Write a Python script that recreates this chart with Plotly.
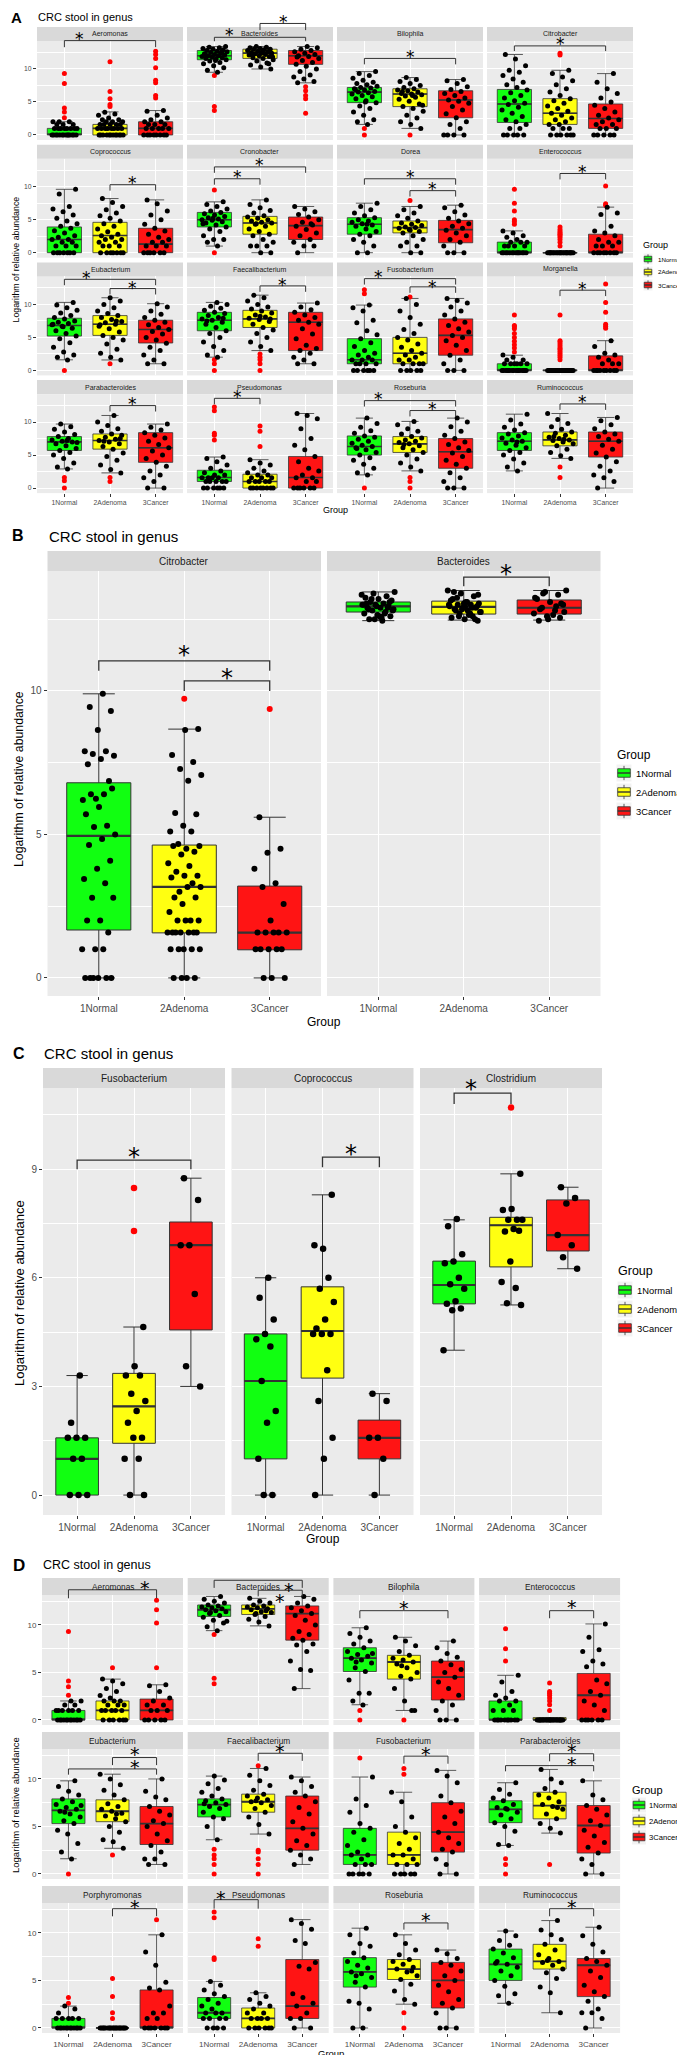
import plotly.graph_objects as go

# ---------------------------------------------------------------- categories / texts
GROUPS = ["1Normal", "2Adenoma", "3Cancer"]
LEGEND_TITLE = "Group"
TITLE = "CRC stool in genus"
Y_TITLE = "Logarithm of relative abundance"
X_TITLE = "Group"

# box stats per group: [q1, median, q3, lower whisker, upper whisker]
# ================================================================ PANEL A
A_aeromonas_box = [[0, 0.1, 1.0, 0, 2.0], [0, 1.0, 1.6, 0, 3.5], [0, 1.0, 2.0, 0, 3.7]]
A_aeromonas_pts = [[0, 0, 0, 0, 0, 0, 0, 0, 0, 0, 0, 0, 0, 0, 1, 1, 1, 1, 1, 1, 1, 1, 1.58, 1.58, 1.58, 2, 2, 2],
                   [0, 0, 0, 0, 0, 0, 0, 0, 0, 0, 0, 0, 1, 1, 1, 1, 1, 1, 1, 1, 1.58, 1.58, 1.58, 1.58, 1.58, 2, 2, 2, 2.32, 2.32, 2.58, 3, 3.17, 3.46],
                   [0, 0, 0, 0, 0, 0, 0, 0, 1, 1, 1, 1, 1, 1.58, 1.58, 1.58, 2, 2, 2.32, 2.58, 3, 3.58, 3.7]]
A_aeromonas_out = [[9.3, 7.8, 4.1, 3.5, 2.6], [11.1, 6.6, 5.5, 4.6, 4.3], [12.7, 12.2, 11.6, 10.2, 8.3, 7.9, 6.0, 5.6]]

A_bacteroides_box = [[11.4, 12.0, 12.8, 9.5, 13.4], [11.6, 12.4, 13.0, 10.0, 13.4], [10.7, 12.0, 12.8, 7.9, 13.4]]
A_bacteroides_pts = [[9.5, 9.8, 10.2, 10.5, 10.8, 11.0, 11.2, 11.4, 11.5, 11.6, 11.7, 11.8, 11.9, 12.0, 12.0, 12.1, 12.2, 12.3, 12.4, 12.5, 12.6, 12.7, 12.8, 12.9, 13.0, 13.1, 13.2, 13.3, 13.4, 11.3, 12.2, 12.6],
                     [10.0, 10.3, 10.6, 10.9, 11.2, 11.4, 11.6, 11.7, 11.9, 12.0, 12.1, 12.2, 12.3, 12.4, 12.4, 12.5, 12.6, 12.7, 12.8, 12.9, 13.0, 13.0, 13.1, 13.2, 13.3, 13.4, 11.8, 12.6, 12.2, 10.8],
                     [7.9, 8.1, 8.5, 8.8, 9.1, 9.6, 10.0, 10.4, 10.7, 11.0, 11.3, 11.6, 11.9, 12.0, 12.2, 12.4, 12.6, 12.8, 13.0, 13.2, 13.4, 11.8]]
A_bacteroides_out = [[9.0, 4.3, 3.7], [], [7.3, 6.7, 6.0, 5.5, 3.3]]

A_bilophila_box = [[4.9, 6.5, 7.2, 1.6, 9.6], [4.3, 6.2, 7.0, 1.0, 8.7], [2.6, 5.3, 6.7, 0, 8.4]]
A_bilophila_pts = [[1.58, 2.0, 2.32, 3.0, 3.5, 4.0, 4.4, 4.9, 5.2, 5.5, 5.8, 6.0, 6.2, 6.4, 6.5, 6.6, 6.8, 7.0, 7.1, 7.2, 7.4, 7.6, 7.8, 8.0, 8.3, 8.6, 9.0, 9.3, 9.6, 5.0, 6.9],
                   [1.0, 1.58, 2.0, 2.58, 3.0, 3.6, 4.0, 4.3, 4.7, 5.1, 5.4, 5.7, 5.9, 6.1, 6.2, 6.3, 6.5, 6.7, 6.8, 7.0, 7.2, 7.5, 7.8, 8.1, 8.4, 8.7, 4.5, 6.0, 6.6],
                   [0, 0, 0, 0, 1.0, 1.58, 2.0, 2.6, 3.2, 3.8, 4.3, 4.8, 5.1, 5.3, 5.6, 6.0, 6.3, 6.6, 6.9, 7.3, 7.8, 8.2, 8.4]]
A_bilophila_out = [[1.0, 0], [0], []]

A_citrobacter_box = [[1.9, 4.7, 6.9, 0, 12.2], [1.6, 3.3, 5.5, 0, 9.8], [1.0, 2.5, 4.7, 0, 9.3]]
A_citrobacter_pts = [[0, 0, 0, 0, 0, 1.0, 1.0, 1.58, 2.0, 2.32, 2.8, 3.3, 3.8, 4.2, 4.6, 4.8, 5.2, 5.6, 6.0, 6.4, 6.8, 7.2, 7.6, 8.0, 8.5, 9.0, 9.5, 9.8, 10.5, 11.5, 12.2],
                     [0, 0, 0, 0, 0, 0, 1.0, 1.0, 1.0, 1.58, 1.58, 2.0, 2.32, 2.58, 3.0, 3.3, 3.6, 4.0, 4.4, 4.8, 5.2, 5.5, 6.0, 6.5, 7.0, 7.6, 8.2, 8.8, 9.3, 9.8],
                     [0, 0, 0, 0, 0, 1.0, 1.0, 1.0, 1.58, 1.58, 2.0, 2.32, 2.58, 3.0, 3.5, 4.0, 4.5, 5.0, 5.6, 6.3, 7.0, 8.0, 9.3]]
A_citrobacter_out = [[], [12.4, 12.1], []]

A_coprococcus_box = [[0, 2.0, 3.9, 0, 9.6], [0, 2.6, 4.6, 0, 8.2], [0, 1.3, 3.7, 0, 8.0]]
A_coprococcus_pts = [[0, 0, 0, 0, 0, 0, 0, 1.0, 1.0, 1.0, 1.58, 1.58, 2.0, 2.0, 2.32, 2.58, 3.0, 3.32, 3.7, 4.0, 4.4, 4.8, 5.2, 5.7, 6.2, 6.6, 7.0, 8.9, 9.6],
                      [0, 0, 0, 0, 0, 0, 0, 1.0, 1.0, 1.0, 1.58, 1.58, 2.0, 2.0, 2.32, 2.58, 2.81, 3.17, 3.6, 4.0, 4.4, 4.8, 5.2, 5.6, 6.0, 6.5, 7.0, 7.6, 8.2],
                      [0, 0, 0, 0, 0, 0, 1.0, 1.0, 1.0, 1.58, 1.58, 2.0, 2.32, 2.81, 3.3, 3.7, 4.3, 5.0, 5.7, 6.3, 7.4, 8.0]]
A_coprococcus_out = [[], [], []]

A_cronobacter_box = [[3.9, 5.0, 6.1, 1.0, 7.7], [2.8, 4.5, 5.5, 0, 8.0], [2.0, 4.1, 5.4, 0, 7.0]]
A_cronobacter_pts = [[1.0, 1.58, 2.0, 2.0, 2.58, 3.2, 3.6, 3.9, 4.2, 4.5, 4.7, 4.9, 5.0, 5.1, 5.3, 5.5, 5.7, 5.9, 6.1, 6.3, 6.6, 7.0, 7.3, 7.7, 5.2, 4.4],
                      [0, 0, 1.0, 1.0, 1.0, 1.58, 2.0, 2.58, 2.8, 3.2, 3.6, 4.0, 4.3, 4.5, 4.6, 4.8, 5.0, 5.2, 5.4, 5.6, 6.0, 6.4, 6.8, 7.3, 8.0, 4.4],
                      [0, 1.0, 1.0, 1.58, 2.0, 2.58, 3.0, 3.5, 4.0, 4.2, 4.6, 5.0, 5.4, 5.8, 6.2, 6.6, 7.0, 4.4]]
A_cronobacter_out = [[9.5, 0], [], []]

A_dorea_box = [[2.8, 4.3, 5.3, 0, 7.5], [3.0, 3.8, 4.8, 0, 7.0], [1.5, 3.5, 4.9, 0, 7.2]]
A_dorea_pts = [[0, 0, 1.0, 1.58, 2.0, 2.58, 2.8, 3.2, 3.6, 4.0, 4.2, 4.4, 4.6, 4.8, 5.0, 5.3, 5.6, 6.0, 6.5, 7.0, 7.5, 4.3],
               [0, 0, 1.0, 1.0, 1.58, 2.0, 2.58, 3.0, 3.2, 3.5, 3.7, 3.8, 3.9, 4.1, 4.3, 4.5, 4.8, 5.2, 5.6, 6.0, 6.5, 7.0, 3.4],
               [0, 0, 0, 1.0, 1.58, 2.0, 2.58, 3.0, 3.4, 3.7, 4.0, 4.4, 4.8, 5.2, 5.7, 6.2, 6.8, 7.2]]
A_dorea_out = [[], [7.9], []]

A_enterococcus_box = [[0, 0, 1.6, 0, 3.3], [0, 0, 0, 0, 0], [0, 0, 2.8, 0, 6.9]]
A_enterococcus_pts = [[0, 0, 0, 0, 0, 0, 0, 0, 0, 0, 0, 0, 0, 0, 1.0, 1.0, 1.0, 1.0, 1.58, 1.58, 1.58, 2.0, 2.32, 2.58, 3.0, 3.3],
                      [0, 0, 0, 0, 0, 0, 0, 0, 0, 0, 0, 0, 0, 0, 0, 0, 0, 0, 0, 0, 0, 0, 0, 0, 0],
                      [0, 0, 0, 0, 0, 0, 0, 0, 1.0, 1.0, 1.0, 1.58, 1.58, 2.0, 2.58, 3.0, 3.3, 4.0, 5.8, 6.0, 6.9]]
A_enterococcus_out = [[9.6, 7.5, 6.3, 5.0, 4.7, 4.3], [3.9, 3.5, 3.2, 3.0, 2.8, 2.6, 2.32, 2.0, 1.58, 1.0], [10.1, 7.4, 7.2]]

A_eubacterium_box = [[5.2, 6.8, 7.9, 1.6, 10.3], [5.3, 7.0, 8.3, 1.58, 11.0], [4.15, 6.2, 7.6, 1.0, 10.1]]
A_eubacterium_pts = [[1.58, 2.0, 2.32, 2.8, 3.5, 4.2, 4.8, 5.2, 5.6, 6.0, 6.4, 6.7, 6.9, 7.1, 7.3, 7.5, 7.8, 8.0, 8.3, 8.7, 9.1, 9.5, 9.9, 10.3, 6.6, 7.0],
                      [1.58, 2.0, 2.58, 3.2, 4.0, 4.6, 5.0, 5.3, 5.8, 6.3, 6.7, 7.0, 7.2, 7.4, 7.7, 8.0, 8.3, 8.6, 9.0, 9.5, 10.0, 10.5, 11.0, 6.9, 7.5],
                      [1.0, 1.0, 1.58, 2.32, 3.0, 3.5, 4.1, 4.6, 5.0, 5.5, 5.9, 6.2, 6.5, 6.9, 7.3, 7.6, 8.0, 8.5, 9.0, 9.6, 10.1]]
A_eubacterium_out = [[0], [1.0], []]

A_faecali_box = [[6.0, 7.6, 8.8, 2.0, 10.3], [6.5, 7.8, 9.1, 3.0, 11.4], [3.0, 7.3, 8.8, 1.0, 10.2]]
A_faecali_pts = [[2.0, 2.32, 3.0, 3.6, 4.3, 5.0, 5.6, 6.0, 6.5, 7.0, 7.3, 7.6, 7.8, 8.0, 8.3, 8.6, 8.8, 9.1, 9.4, 9.7, 10.0, 10.3, 7.5, 7.9],
                  [3.0, 3.6, 4.3, 5.0, 5.6, 6.1, 6.5, 7.0, 7.4, 7.7, 7.9, 8.1, 8.4, 8.7, 9.0, 9.3, 9.6, 10.0, 10.5, 11.0, 11.4, 7.8, 8.2],
                  [1.0, 1.0, 1.58, 2.0, 2.58, 3.0, 3.3, 3.8, 4.8, 5.5, 6.3, 7.0, 7.3, 7.6, 8.0, 8.4, 8.8, 9.2, 9.6, 10.2]]
A_faecali_out = [[1.6, 1.0, 0], [2.5, 2.0, 1.6, 1.0, 0], []]

A_fuso_box = [[1.0, 1.6, 4.8, 0, 9.9], [1.0, 2.6, 5.0, 0, 10.9], [2.3, 5.3, 7.8, 0, 10.9]]
A_fuso_pts = [[0, 0, 0, 0, 0, 0, 1.0, 1.0, 1.0, 1.0, 1.58, 1.58, 1.58, 2.0, 2.32, 2.58, 3.0, 3.6, 4.2, 4.8, 5.4, 6.0, 7.2, 7.6, 9.0, 9.5, 9.9],
               [0, 0, 0, 0, 0, 1.0, 1.0, 1.0, 1.0, 1.58, 1.58, 2.0, 2.32, 2.58, 3.0, 3.5, 4.0, 4.6, 5.0, 5.6, 6.2, 7.0, 8.0, 9.0, 10.0, 10.9],
               [0, 0, 0, 1.0, 1.58, 2.3, 3.0, 3.8, 4.5, 5.0, 5.3, 5.8, 6.3, 6.8, 7.3, 7.8, 8.4, 9.0, 9.6, 10.2, 10.6, 10.9]]
A_fuso_out = [[12.2, 11.6], [11.1], []]

A_morganella_box = [[0, 0, 1.0, 0, 2.3], [0, 0, 0, 0, 0], [0, 0, 2.2, 0, 4.5]]
A_morganella_pts = [[0, 0, 0, 0, 0, 0, 0, 0, 0, 0, 0, 0, 0, 0, 0, 0, 1.0, 1.0, 1.0, 1.0, 1.0, 1.0, 1.58, 1.58, 2.0, 2.32],
                     [0, 0, 0, 0, 0, 0, 0, 0, 0, 0, 0, 0, 0, 0, 0, 0, 0, 0, 0, 0, 0, 0, 0, 0, 0, 0],
                     [0, 0, 0, 0, 0, 0, 0, 0, 0, 1.0, 1.0, 1.0, 1.58, 2.0, 2.32, 2.58, 3.6, 4.5]]
A_morganella_out = [[8.4, 6.8, 6.6, 6.3, 5.6, 5.0, 4.4, 3.9, 3.4, 2.8],
                    [8.4, 4.5, 4.3, 4.0, 3.7, 3.4, 3.2, 2.9, 2.6, 2.3, 2.0, 1.6],
                    [13.1, 10.3, 8.8, 7.0, 6.7, 6.4]]

A_parabac_box = [[5.7, 7.0, 7.8, 2.9, 9.7], [5.9, 7.2, 8.2, 2.3, 11.0], [3.9, 6.1, 8.4, 0, 9.7]]
A_parabac_pts = [[2.9, 3.2, 3.8, 4.5, 5.0, 5.4, 5.7, 6.0, 6.4, 6.7, 7.0, 7.1, 7.3, 7.5, 7.8, 8.1, 8.5, 8.9, 9.3, 9.7, 6.9, 7.2],
                  [2.3, 2.8, 3.5, 4.2, 4.8, 5.3, 5.9, 6.3, 6.7, 7.0, 7.2, 7.4, 7.7, 8.0, 8.2, 8.6, 9.0, 9.5, 10.0, 11.0, 7.1, 7.5],
                  [0, 0, 1.0, 1.58, 2.0, 2.58, 3.3, 3.9, 4.5, 5.0, 5.6, 6.1, 6.6, 7.1, 7.6, 8.0, 8.4, 8.8, 9.2, 9.7]]
A_parabac_out = [[1.6, 1.1, 0], [1.6, 1.0], []]

A_pseudo_box = [[1.0, 1.6, 2.7, 0, 4.7], [0, 1.0, 2.1, 0, 4.3], [0, 1.6, 4.8, 0, 11.3]]
A_pseudo_pts = [[0, 0, 0, 0, 0, 0, 1.0, 1.0, 1.0, 1.0, 1.0, 1.58, 1.58, 1.58, 1.58, 2.0, 2.0, 2.32, 2.58, 3.0, 3.5, 4.0, 4.5, 4.7],
                 [0, 0, 0, 0, 0, 0, 0, 0, 1.0, 1.0, 1.0, 1.0, 1.0, 1.58, 1.58, 1.58, 2.0, 2.0, 2.32, 2.58, 3.0, 3.5, 3.8, 4.3],
                 [0, 0, 0, 0, 0, 0, 1.0, 1.0, 1.58, 1.58, 2.0, 2.58, 3.0, 4.0, 4.8, 5.8, 6.5, 7.5, 9.0, 10.5, 11.0, 11.3]]
A_pseudo_out = [[12.3, 11.7, 8.3, 8.0, 7.3], [9.4, 8.6, 6.3], []]

A_roseburia_box = [[5.0, 6.3, 7.9, 2.0, 10.6], [5.4, 6.7, 7.8, 2.6, 10.1], [3.0, 5.5, 7.5, 0, 10.6]]
A_roseburia_pts = [[2.0, 2.32, 3.0, 3.6, 4.2, 4.6, 5.0, 5.4, 5.8, 6.1, 6.3, 6.5, 6.8, 7.1, 7.4, 7.7, 7.9, 8.3, 8.7, 9.2, 9.8, 10.6, 6.0],
                    [2.6, 3.2, 3.8, 4.4, 5.0, 5.4, 5.8, 6.1, 6.4, 6.7, 6.9, 7.1, 7.3, 7.6, 7.8, 8.2, 8.6, 9.0, 9.6, 10.1, 6.6],
                    [0, 0, 0, 1.0, 1.58, 2.32, 3.0, 3.6, 4.2, 4.8, 5.3, 5.7, 6.1, 6.6, 7.0, 7.5, 8.0, 8.6, 9.3, 10.0, 10.6]]
A_roseburia_out = [[0], [1.6, 1.0, 0], []]

A_rumino_box = [[5.7, 7.1, 8.4, 2.6, 11.2], [6.4, 7.3, 8.5, 4.5, 11.3], [4.7, 7.1, 8.5, 0, 10.7]]
A_rumino_pts = [[2.6, 3.2, 3.8, 4.4, 5.0, 5.4, 5.7, 6.1, 6.5, 6.8, 7.1, 7.3, 7.6, 7.9, 8.2, 8.4, 8.8, 9.2, 9.7, 10.3, 11.2, 7.0],
                 [4.5, 4.9, 5.4, 5.9, 6.4, 6.7, 7.0, 7.2, 7.3, 7.5, 7.7, 8.0, 8.3, 8.5, 8.9, 9.3, 9.8, 10.4, 11.3, 7.4, 7.8],
                 [0, 1.0, 1.58, 2.0, 2.58, 3.3, 4.0, 4.7, 5.3, 5.9, 6.5, 7.1, 7.4, 7.8, 8.2, 8.5, 9.0, 9.6, 10.2, 10.7]]
A_rumino_out = [[], [3.2, 1.6], []]

# significance: (facet, group a, group b, bracket y, tip length, star x, star y)
A_SIG = [("Aeromonas", 0, 2, 14.3, 1.0, 0.34, 15.1),
         ("Bacteroides", 0, 2, 14.8, 0.6, 0.34, 15.6),
         ("Bacteroides", 1, 2, 16.9, 1.0, 1.51, 17.7),
         ("Bilophila", 0, 2, 11.6, 0.9, 1.0, 12.35),
         ("Citrobacter", 0, 2, 13.5, 0.8, 1.0, 14.3),
         ("Coprococcus", 1, 2, 10.3, 0.9, 1.5, 11.05),
         ("Cronobacter", 0, 2, 13.0, 0.9, 1.0, 13.85),
         ("Cronobacter", 0, 1, 11.2, 0.9, 0.5, 11.95),
         ("Dorea", 0, 2, 11.2, 0.9, 1.0, 11.95),
         ("Dorea", 1, 2, 9.4, 0.9, 1.5, 10.15),
         ("Enterococcus", 1, 2, 12.0, 0.9, 1.5, 12.7),
         ("Eubacterium", 0, 2, 13.8, 0.9, 0.48, 14.55),
         ("Eubacterium", 1, 2, 12.4, 0.9, 1.5, 13.0),
         ("Faecalibacterium", 1, 2, 12.8, 0.9, 1.5, 13.5),
         ("Fusobacterium", 0, 2, 13.9, 0.9, 0.32, 14.65),
         ("Fusobacterium", 1, 2, 12.65, 0.9, 1.5, 13.15),
         ("Morganella", 1, 2, 12.15, 0.9, 1.5, 12.8),
         ("Parabacteroides", 1, 2, 12.5, 0.9, 1.5, 13.25),
         ("Pseudomonas", 0, 1, 13.6, 0.9, 0.5, 14.25),
         ("Roseburia", 0, 2, 13.25, 0.9, 0.32, 14.0),
         ("Roseburia", 1, 2, 11.75, 0.9, 1.5, 12.5),
         ("Ruminococcus", 1, 2, 12.75, 0.9, 1.5, 13.5)]

# ================================================================ PANEL B
B_citro_box = [[1.67, 4.95, 6.8, 0, 9.9], [1.57, 3.17, 4.63, 0, 8.67], [0.98, 1.58, 3.2, 0, 5.6]]
B_citro_pts = [[9.9, 9.44, 9.3, 8.64, 7.9, 7.9, 7.8, 7.74, 7.63, 7.45, 6.86, 6.24, 6.2, 6.4, 6.4, 6.6, 5.96, 5.7, 5.3, 5.26, 5.0, 4.84, 4.63, 4.08, 3.8, 3.45, 3.3, 2.79, 2.79, 2.0, 2.0, 1.58, 1.0, 1.0, 1.0, 0, 0, 0, 0, 0, 0],
               [8.67, 8.64, 7.77, 7.52, 7.28, 7.07, 6.87, 5.75, 5.7, 5.3, 5.1, 5.1, 4.67, 4.6, 4.5, 4.6, 4.4, 4.3, 4.0, 3.9, 3.7, 3.56, 3.56, 3.5, 3.3, 3.0, 3.17, 3.17, 2.8, 2.8, 2.58, 2.3, 2.0, 2.0, 2.0, 2.0, 1.58, 1.58, 1.58, 1.58, 1.58, 1.58, 1.58, 1.0, 1.0, 1.0, 1.0, 1.0, 0, 0, 0, 0],
               [5.6, 4.5, 4.36, 3.8, 3.3, 3.17, 2.58, 2.0, 1.58, 1.58, 1.58, 1.58, 1.58, 1.0, 1.0, 1.0, 1.0, 1.0, 0, 0, 0]]
B_citro_out = [[], [9.73], [9.37]]

B_bactero_box = [[12.75, 12.95, 13.1, 12.45, 13.45], [12.68, 12.93, 13.13, 12.47, 13.5], [12.68, 12.9, 13.17, 12.47, 13.5]]
B_bactero_pts = [[12.45, 12.5, 12.6, 12.65, 12.7, 12.75, 12.8, 12.85, 12.9, 12.9, 12.95, 13.0, 13.0, 13.05, 13.1, 13.15, 13.2, 13.25, 13.3, 13.4, 13.45, 12.55, 12.85, 13.1, 12.95, 13.0, 12.7, 13.2, 12.8, 12.6, 13.05, 12.9, 12.5, 13.35],
                 [12.45, 12.5, 12.55, 12.6, 12.7, 12.75, 12.8, 12.85, 12.9, 12.9, 12.95, 13.0, 13.0, 13.05, 13.1, 13.2, 13.3, 13.4, 13.5, 12.65, 12.8, 12.95, 13.05, 13.15, 12.9, 12.6, 12.75, 13.1, 13.45, 12.5, 12.85, 13.0, 12.7, 13.25, 13.35, 12.95],
                 [12.45, 12.55, 12.6, 12.7, 12.8, 12.9, 13.0, 13.1, 13.2, 13.35, 13.45, 13.5, 12.65, 12.85, 13.05, 12.5, 13.25, 12.95, 13.4, 12.75]]
B_bactero_out = [[], [], []]

B_SIG = [("Citrobacter", 0, 2, 11.05, 0.35, 1.0, 11.42),
         ("Citrobacter", 1, 2, 10.35, 0.35, 1.5, 10.62),
         ("Bacteroides", 1, 2, 13.97, 0.32, 1.5, 14.25)]

# ================================================================ PANEL C
C_fuso_box = [[0, 1.0, 1.58, 0, 3.3], [1.43, 2.45, 3.36, 0, 4.64], [4.56, 6.9, 7.54, 3.0, 8.75]]
C_fuso_pts = [[3.3, 2.0, 1.58, 1.58, 1.58, 1.0, 1.0, 0, 0, 0],
              [4.64, 3.56, 3.3, 3.3, 2.8, 2.6, 2.32, 2.0, 1.58, 1.58, 1.0, 1.0, 0, 0],
              [8.75, 8.15, 6.9, 6.9, 5.55, 3.56, 3.0]]
C_fuso_out = [[], [8.48, 7.29], []]

C_copro_box = [[1.0, 3.15, 4.45, 0, 6.0], [3.23, 4.53, 5.75, 0, 8.29], [1.0, 1.58, 2.07, 0, 2.8]]
C_copro_pts = [[6.0, 5.45, 4.85, 4.45, 4.3, 4.1, 3.15, 2.32, 2.0, 1.0, 0, 0],
               [8.29, 6.8, 6.9, 6.0, 5.7, 5.33, 4.85, 4.6, 4.45, 4.45, 4.45, 3.45, 2.6, 1.58, 1.0, 0],
               [2.8, 2.6, 1.58, 1.58, 1.0, 0]]
C_copro_out = [[], [], []]

C_clost_box = [[5.28, 5.8, 6.46, 4.0, 7.6], [6.3, 7.45, 7.67, 5.25, 8.87], [6.74, 7.18, 8.15, 6.25, 8.5]]
C_clost_pts = [[7.62, 7.42, 6.65, 6.45, 6.4, 6.0, 5.82, 5.7, 5.35, 5.28, 5.15, 5.1, 4.0],
               [8.87, 7.9, 7.87, 7.6, 7.6, 7.6, 7.35, 7.28, 7.3, 6.45, 5.88, 5.72, 5.3, 5.25],
               [8.5, 8.2, 8.05, 7.18, 6.9, 6.57, 6.25]]
C_clost_out = [[], [10.7], []]

C_SIG = [("Fusobacterium", 0, 2, 9.25, 0.25, 1.0, 9.48),
         ("Coprococcus", 1, 2, 9.33, 0.28, 1.5, 9.56),
         ("Clostridium", 0, 1, 11.1, 0.3, 0.3, 11.35)]

# ================================================================ PANEL D
D_aeromonas_box = [[0, 0.05, 1.0, 0, 2.0], [0, 1.0, 2.0, 0, 4.3], [0, 1.0, 2.2, 0, 3.7]]
D_aeromonas_pts = [[0, 0, 0, 0, 0, 0, 0, 0, 0, 0, 0, 0, 1.0, 1.0, 1.0, 1.0, 1.0, 1.0, 1.58, 1.58, 2.0, 2.0],
                   [0, 0, 0, 0, 0, 0, 1.0, 1.0, 1.0, 1.0, 1.0, 1.58, 1.58, 1.58, 2.0, 2.0, 2.0, 2.32, 2.58, 3.0, 3.3, 3.8, 4.1, 4.3],
                   [0, 0, 0, 0, 0, 1.0, 1.0, 1.0, 1.58, 1.58, 2.0, 2.32, 3.0, 3.6, 3.7]]
D_aeromonas_out = [[9.3, 4.1, 3.5, 2.6], [5.5], [12.6, 11.6, 10.2, 5.5]]

D_bactero_box = [[10.9, 11.6, 12.1, 9.4, 13.0], [11.1, 11.7, 12.1, 9.9, 12.8], [8.4, 11.2, 12.0, 3.3, 13.0]]
D_bactero_pts = [[9.4, 9.8, 10.2, 10.5, 10.8, 11.0, 11.2, 11.4, 11.5, 11.6, 11.7, 11.8, 11.9, 12.0, 12.1, 12.3, 12.5, 12.7, 13.0, 11.3, 10.4],
                 [9.9, 10.3, 10.6, 10.9, 11.1, 11.3, 11.4, 11.6, 11.7, 11.8, 11.9, 12.0, 12.1, 12.3, 12.5, 12.8, 11.5, 11.2],
                 [3.3, 5.2, 5.3, 6.2, 7.2, 7.9, 8.0, 8.4, 8.6, 9.0, 9.3, 10.0, 10.5, 11.0, 11.2, 11.5, 11.8, 12.0, 12.3, 12.7, 13.0]]
D_bactero_out = [[9.0, 4.4, 3.8], [], []]

D_bilophila_box = [[5.1, 6.5, 7.6, 1.6, 9.7], [4.3, 6.1, 6.8, 1.0, 8.7], [2.1, 4.5, 6.2, 0, 8.3]]
D_bilophila_pts = [[1.58, 2.0, 2.81, 2.81, 4.2, 5.1, 5.5, 6.0, 6.3, 6.5, 6.7, 6.9, 7.2, 7.6, 8.0, 8.3, 8.7, 9.1, 9.7, 6.1, 7.0],
                   [1.0, 2.0, 3.3, 4.3, 4.6, 5.0, 5.5, 5.9, 6.1, 6.3, 6.5, 6.8, 7.2, 7.8, 8.3, 8.7, 1.0, 5.7],
                   [0, 0, 0, 1.0, 1.58, 2.0, 2.6, 3.3, 4.0, 4.5, 5.0, 5.3, 5.8, 6.2, 6.6, 7.0, 7.6, 8.3]]
D_bilophila_out = [[1.0, 0], [0], []]

D_entero_box = [[0, 0, 2.0, 0, 4.7], [0, 0, 0.25, 0, 0.25], [0, 2.6, 4.9, 0, 10.1]]
D_entero_pts = [[0, 0, 0, 0, 0, 0, 0, 0, 0, 0, 1.0, 1.0, 1.0, 1.58, 2.0, 2.0, 2.32, 2.6, 3.0, 4.0, 4.7],
                [0, 0, 0, 0, 0, 0, 0, 0, 0, 0, 0, 0, 0, 0, 0, 0, 0, 0, 0, 0, 0, 0, 0, 0],
                [0, 0, 0, 0, 0, 0, 1.0, 1.58, 2.0, 2.6, 3.0, 3.8, 4.2, 5.6, 5.9, 6.2, 7.2, 7.4, 8.7, 10.1]]
D_entero_out = [[9.6, 7.5, 6.2], [3.9, 3.0, 2.8, 2.6, 2.3, 2.0, 1.6, 1.0], []]

D_eubac_box = [[5.3, 6.7, 7.9, 1.6, 9.8], [5.5, 6.6, 7.8, 2.7, 10.5], [3.1, 5.3, 7.1, 1.0, 10.0]]
D_eubac_pts = [[1.58, 2.32, 3.2, 4.2, 4.6, 5.3, 5.6, 6.0, 6.3, 6.6, 6.8, 7.0, 7.3, 7.6, 7.9, 8.3, 8.7, 9.2, 9.8, 6.5, 7.2],
               [2.7, 3.4, 3.6, 4.4, 5.0, 5.5, 5.8, 6.1, 6.4, 6.6, 6.8, 7.1, 7.4, 7.8, 8.3, 8.8, 9.4, 10.0, 10.5, 6.3],
               [1.0, 1.0, 1.58, 1.58, 2.3, 3.0, 3.5, 4.2, 5.0, 5.3, 5.6, 6.2, 6.6, 7.1, 7.8, 8.1, 8.7, 10.0]]
D_eubac_out = [[0], [2.0], []]

D_faecali_box = [[6.0, 7.3, 7.9, 3.6, 10.3], [6.5, 7.6, 8.4, 4.2, 11.1], [2.5, 4.8, 8.2, 1.0, 10.2]]
D_faecali_pts = [[3.6, 5.0, 5.8, 6.0, 6.5, 6.9, 7.1, 7.3, 7.5, 7.7, 7.9, 8.2, 8.6, 9.0, 9.5, 9.9, 10.3, 7.4],
                 [4.2, 5.2, 6.0, 6.5, 6.9, 7.2, 7.5, 7.6, 7.8, 8.0, 8.2, 8.4, 8.8, 9.3, 9.8, 10.4, 11.1, 7.7],
                 [1.0, 1.58, 2.0, 2.5, 3.0, 3.5, 4.2, 4.8, 5.5, 6.3, 7.0, 7.6, 8.2, 8.6, 9.2, 9.8, 10.2]]
D_faecali_out = [[2.6, 2.0, 1.6, 1.0, 0], [11.4, 2.5, 2.3, 1.6, 1.0, 0], []]

D_fuso_box = [[1.0, 2.0, 4.8, 0, 10.2], [1.0, 2.0, 4.4, 0, 8.6], [2.3, 4.4, 7.5, 0, 10.9]]
D_fuso_pts = [[0, 0, 0, 0, 0, 1.0, 1.0, 1.0, 1.58, 2.0, 2.0, 2.32, 3.0, 3.6, 4.4, 4.8, 5.3, 6.5, 7.2, 7.9, 10.2],
              [0, 0, 0, 0, 0, 1.0, 1.0, 1.0, 1.58, 2.0, 2.0, 2.6, 3.2, 3.8, 4.4, 5.0, 6.0, 7.6, 8.6],
              [0, 0, 1.0, 1.58, 2.3, 2.6, 3.2, 3.8, 4.4, 5.3, 6.0, 6.6, 7.5, 8.2, 9.6, 10.3, 10.9]]
D_fuso_out = [[12.2], [11.1, 10.5], []]

D_parabac_box = [[5.4, 6.8, 7.7, 3.0, 9.6], [5.8, 7.2, 8.6, 4.3, 11.0], [2.2, 5.1, 7.2, 0, 9.8]]
D_parabac_pts = [[3.0, 3.1, 4.5, 5.0, 5.4, 5.8, 6.2, 6.5, 6.8, 7.0, 7.3, 7.7, 8.0, 8.4, 8.9, 9.6, 6.9],
                 [4.3, 4.8, 5.3, 5.8, 6.3, 6.8, 7.1, 7.3, 7.6, 8.0, 8.3, 8.6, 9.0, 9.6, 10.0, 11.0, 7.0],
                 [0, 0, 1.0, 1.58, 2.2, 2.8, 3.3, 4.0, 4.6, 5.1, 5.6, 6.2, 6.8, 7.2, 7.8, 8.3, 9.8]]
D_parabac_out = [[1.6, 1.0, 0], [1.0], []]

D_porphyro_box = [[0, 0.05, 1.0, 0, 2.3], [0, 0, 0, 0, 0], [0, 0.05, 4.0, 0, 9.8]]
D_porphyro_pts = [[0, 0, 0, 0, 0, 0, 0, 0, 0, 0, 0, 0, 1.0, 1.0, 1.0, 1.0, 1.0, 1.58, 2.0, 2.32],
                  [0, 0, 0, 0, 0, 0, 0, 0, 0, 0, 0, 0, 0, 0, 0, 0, 0, 0, 0, 0],
                  [0, 0, 0, 0, 0, 0, 0, 1.0, 1.0, 1.58, 1.58, 2.32, 4.0, 4.2, 4.8, 6.6, 8.0, 9.8]]
D_porphyro_out = [[3.2, 2.6], [5.2, 3.3, 1.6, 1.0], [11.4]]

D_pseudo_box = [[1.0, 1.6, 3.2, 0, 4.9], [0, 1.0, 2.1, 0, 3.7], [1.0, 2.3, 7.2, 0, 11.4]]
D_pseudo_pts = [[0, 0, 0, 0, 1.0, 1.0, 1.0, 1.0, 1.58, 1.58, 1.58, 2.0, 2.32, 2.6, 3.0, 3.3, 3.6, 4.0, 4.5, 4.9],
                [0, 0, 0, 0, 0, 0, 1.0, 1.0, 1.0, 1.0, 1.58, 1.58, 2.0, 2.32, 2.6, 3.0, 3.3, 3.7],
                [0, 0, 1.0, 1.0, 1.58, 2.3, 2.6, 3.2, 3.6, 6.2, 6.5, 6.9, 8.9, 9.2, 10.4, 11.0, 11.4]]
D_pseudo_out = [[12.2, 11.6, 7.4, 7.2], [9.4, 8.6], []]

D_roseb_box = [[4.3, 5.9, 7.4, 0, 10.5], [5.1, 6.2, 7.2, 2.5, 9.8], [2.1, 5.0, 6.9, 0, 8.2]]
D_roseb_pts = [[0, 0, 2.0, 2.6, 2.8, 4.3, 4.8, 5.3, 5.7, 5.9, 6.3, 6.6, 7.0, 7.4, 7.9, 8.6, 8.9, 9.8, 10.5, 5.5],
               [2.5, 3.0, 3.9, 4.6, 5.1, 5.5, 5.9, 6.2, 6.4, 6.7, 7.0, 7.2, 7.7, 8.2, 8.9, 9.8, 6.0],
               [0, 0, 0, 1.58, 2.1, 2.6, 3.0, 3.8, 4.5, 5.0, 5.5, 6.0, 6.6, 6.9, 7.3, 7.8, 8.2]]
D_roseb_out = [[], [1.6, 0], []]

D_rumino_box = [[5.0, 6.7, 8.3, 2.6, 10.2], [6.2, 7.0, 8.8, 1.6, 11.3], [3.3, 6.6, 7.3, 0, 10.6]]
D_rumino_pts = [[2.6, 3.4, 3.6, 4.4, 5.0, 5.5, 6.0, 6.4, 6.7, 7.0, 7.4, 7.9, 8.3, 8.7, 9.2, 9.7, 10.2, 6.8],
                [1.6, 3.7, 4.3, 5.2, 5.8, 6.2, 6.6, 6.9, 7.0, 7.3, 7.7, 8.2, 8.8, 9.3, 9.8, 10.3, 11.3, 7.1],
                [0, 1.0, 1.6, 1.6, 2.0, 2.8, 3.3, 3.8, 4.5, 5.3, 6.0, 6.6, 7.0, 7.3, 8.0, 8.8, 9.7, 10.6]]
D_rumino_out = [[], [], []]

D_SIG = [("Aeromonas", 0, 2, 13.7, 0.9, 1.74, 14.3),
         ("Bacteroides", 0, 2, 14.7, 0.8, 1.7, 14.1),
         ("Bacteroides", 1, 2, 13.65, 0.65, 1.5, 12.9),
         ("Bilophila", 0, 2, 11.5, 0.8, 1.0, 12.2),
         ("Enterococcus", 1, 2, 11.5, 0.8, 1.5, 12.3),
         ("Eubacterium", 1, 2, 12.25, 0.8, 1.5, 13.0),
         ("Eubacterium", 0, 2, 11.05, 0.6, 1.5, 11.65),
         ("Faecalibacterium", 1, 2, 12.7, 0.8, 1.5, 13.3),
         ("Fusobacterium", 1, 2, 12.4, 0.8, 1.5, 13.0),
         ("Parabacteroides", 1, 2, 12.65, 0.8, 1.5, 13.3),
         ("Parabacteroides", 0, 2, 11.4, 0.6, 1.5, 12.0),
         ("Porphyromonas", 1, 2, 12.55, 0.8, 1.5, 13.15),
         ("Pseudomonas", 0, 1, 13.5, 0.95, 0.15, 14.1),
         ("Roseburia", 1, 2, 11.05, 0.7, 1.5, 11.75),
         ("Ruminococcus", 1, 2, 12.55, 0.8, 1.5, 13.1)]

A_DATA = [("Aeromonas", A_aeromonas_box, A_aeromonas_pts, A_aeromonas_out),
          ("Bacteroides", A_bacteroides_box, A_bacteroides_pts, A_bacteroides_out),
          ("Bilophila", A_bilophila_box, A_bilophila_pts, A_bilophila_out),
          ("Citrobacter", A_citrobacter_box, A_citrobacter_pts, A_citrobacter_out),
          ("Coprococcus", A_coprococcus_box, A_coprococcus_pts, A_coprococcus_out),
          ("Cronobacter", A_cronobacter_box, A_cronobacter_pts, A_cronobacter_out),
          ("Dorea", A_dorea_box, A_dorea_pts, A_dorea_out),
          ("Enterococcus", A_enterococcus_box, A_enterococcus_pts, A_enterococcus_out),
          ("Eubacterium", A_eubacterium_box, A_eubacterium_pts, A_eubacterium_out),
          ("Faecalibacterium", A_faecali_box, A_faecali_pts, A_faecali_out),
          ("Fusobacterium", A_fuso_box, A_fuso_pts, A_fuso_out),
          ("Morganella", A_morganella_box, A_morganella_pts, A_morganella_out),
          ("Parabacteroides", A_parabac_box, A_parabac_pts, A_parabac_out),
          ("Pseudomonas", A_pseudo_box, A_pseudo_pts, A_pseudo_out),
          ("Roseburia", A_roseburia_box, A_roseburia_pts, A_roseburia_out),
          ("Ruminococcus", A_rumino_box, A_rumino_pts, A_rumino_out)]
B_DATA = [("Citrobacter", B_citro_box, B_citro_pts, B_citro_out),
          ("Bacteroides", B_bactero_box, B_bactero_pts, B_bactero_out)]
C_DATA = [("Fusobacterium", C_fuso_box, C_fuso_pts, C_fuso_out),
          ("Coprococcus", C_copro_box, C_copro_pts, C_copro_out),
          ("Clostridium", C_clost_box, C_clost_pts, C_clost_out)]
D_DATA = [("Aeromonas", D_aeromonas_box, D_aeromonas_pts, D_aeromonas_out),
          ("Bacteroides", D_bactero_box, D_bactero_pts, D_bactero_out),
          ("Bilophila", D_bilophila_box, D_bilophila_pts, D_bilophila_out),
          ("Enterococcus", D_entero_box, D_entero_pts, D_entero_out),
          ("Eubacterium", D_eubac_box, D_eubac_pts, D_eubac_out),
          ("Faecalibacterium", D_faecali_box, D_faecali_pts, D_faecali_out),
          ("Fusobacterium", D_fuso_box, D_fuso_pts, D_fuso_out),
          ("Parabacteroides", D_parabac_box, D_parabac_pts, D_parabac_out),
          ("Porphyromonas", D_porphyro_box, D_porphyro_pts, D_porphyro_out),
          ("Pseudomonas", D_pseudo_box, D_pseudo_pts, D_pseudo_out),
          ("Roseburia", D_roseb_box, D_roseb_pts, D_roseb_out),
          ("Ruminococcus", D_rumino_box, D_rumino_pts, D_rumino_out)]

# ---------------------------------------------------------------- styling
BOX_FILL = ["#11FF11", "#FFFF11", "#FF1414"]
BOX_LINE = "#333333"
OUTLIER = "#FF0000"
PANEL_BG = "#EBEBEB"
STRIP_BG = "#D9D9D9"
FONT = "Liberation Sans, Arial, sans-serif"
STAR_FONT = "DejaVu Sans, sans-serif"
W, H = 685, 2055


def fx(p):
    return p / W


def fy(p):
    return 1 - p / H


fig = go.Figure()
axes = {}
shapes = []
annots = []
counter = [0]


def jitter_offsets(n, g, width):
    return [width * (2 * (((i + 1) * 0.6180339887 + 0.29 * g) % 1.0) - 1) for i in range(n)]


def add_facet(name, box, pts, out, sigs, x0, x1, ptop, pbot, strip_h, yrange, yticks, yminor,
              show_x, show_y, st):
    counter[0] += 1
    n = counter[0]
    xr = "x" if n == 1 else "x%d" % n
    yr = "y" if n == 1 else "y%d" % n
    axes["xaxis" if n == 1 else "xaxis%d" % n] = dict(
        domain=[fx(x0), fx(x1)], range=[-0.6, 2.6], anchor=yr,
        tickmode="array", tickvals=[0, 1, 2], ticktext=GROUPS,
        showticklabels=show_x, ticks="outside" if show_x else "", ticklen=3, tickwidth=1,
        tickcolor="#333333", tickfont=dict(family=FONT, size=st["tick"], color="#4D4D4D"),
        showgrid=True, gridcolor="white", gridwidth=1.1, zeroline=False, showline=False,
        fixedrange=True)
    axes["yaxis" if n == 1 else "yaxis%d" % n] = dict(
        domain=[fy(pbot), fy(ptop)], range=yrange, anchor=xr,
        tickmode="array", tickvals=yticks, ticktext=[str(v) for v in yticks],
        showticklabels=show_y, ticks="outside" if show_y else "", ticklen=3, tickwidth=1,
        tickcolor="#333333", tickfont=dict(family=FONT, size=st["tick"], color="#4D4D4D"),
        showgrid=True, gridcolor="white", gridwidth=1.1, zeroline=False, showline=False,
        minor=dict(tickmode="array", tickvals=yminor, showgrid=True, gridcolor="white",
                   gridwidth=0.5, ticks=""),
        fixedrange=True)
    # strip
    shapes.append(dict(type="rect", xref="paper", yref="paper", x0=fx(x0), x1=fx(x1),
                       y0=fy(ptop), y1=fy(ptop - strip_h), fillcolor=STRIP_BG,
                       line=dict(width=0), layer="below"))
    annots.append(dict(text=name, xref="paper", yref="paper", x=fx((x0 + x1) / 2),
                       y=fy(ptop - strip_h / 2), xanchor="center", yanchor="middle",
                       showarrow=False, font=dict(family=FONT, size=st["strip"], color="#1A1A1A")))
    # boxes
    for g in range(3):
        q1, med, q3, lo, hi = box[g]
        fig.add_trace(go.Box(x=[g], q1=[q1], median=[med], q3=[q3], lowerfence=[lo],
                             upperfence=[hi], width=0.75, fillcolor=BOX_FILL[g],
                             line=dict(color=BOX_LINE, width=st["lw"]), boxpoints=False,
                             name=GROUPS[g], xaxis=xr, yaxis=yr, showlegend=False,
                             hoverinfo="skip"))
    # thicker median bars (as ggplot draws them)
    mx, my = [], []
    for g in range(3):
        mx += [g - 0.375, g + 0.375, None]
        my += [box[g][1], box[g][1], None]
    fig.add_trace(go.Scatter(x=mx, y=my, mode="lines", line=dict(color=BOX_LINE, width=st["mw"]),
                             xaxis=xr, yaxis=yr, showlegend=False, hoverinfo="skip"))
    # outliers (red, centred)
    ox, oy = [], []
    for g in range(3):
        ox += [g] * len(out[g])
        oy += out[g]
    if oy:
        fig.add_trace(go.Scatter(x=ox, y=oy, mode="markers",
                                 marker=dict(color=OUTLIER, size=st["ms"], line=dict(width=0)),
                                 xaxis=xr, yaxis=yr, showlegend=False, hoverinfo="skip",
                                 cliponaxis=False))
    # jittered points
    xs, ys = [], []
    for g in range(3):
        offs = jitter_offsets(len(pts[g]), g, st["jit"])
        xs += [g + o for o in offs]
        ys += pts[g]
    fig.add_trace(go.Scatter(x=xs, y=ys, mode="markers",
                             marker=dict(color="black", size=st["ms"], line=dict(width=0)),
                             xaxis=xr, yaxis=yr, showlegend=False, hoverinfo="skip",
                             cliponaxis=False))

    # significance brackets and stars (may reach above the panel, so placed on the page)
    def vy(v):
        return ptop + (yrange[1] - v) / (yrange[1] - yrange[0]) * (pbot - ptop)

    def gx(g):
        return x0 + (g + 0.6) / 3.2 * (x1 - x0)

    for (g1, g2, yb, tip, stx, sty) in sigs:
        path = "M %.5f,%.5f L %.5f,%.5f L %.5f,%.5f L %.5f,%.5f" % (
            fx(gx(g1)), fy(vy(yb - tip)), fx(gx(g1)), fy(vy(yb)),
            fx(gx(g2)), fy(vy(yb)), fx(gx(g2)), fy(vy(yb - tip)))
        shapes.append(dict(type="path", xref="paper", yref="paper", path=path,
                           line=dict(color="#333333", width=st["bw"])))
        annots.append(dict(text="*", xref="paper", yref="paper", x=fx(gx(stx)), y=fy(vy(sty)),
                           xanchor="center", yanchor="middle", yshift=-st["star"] * 0.2,
                           showarrow=False,
                           font=dict(family=STAR_FONT, size=st["star"], color="black")))


def add_text(text, x, y, size, color="black", xanchor="left", angle=0, bold=False):
    annots.append(dict(text=("<b>%s</b>" % text) if bold else text, xref="paper", yref="paper",
                       x=fx(x), y=fy(y), xanchor=xanchor, yanchor="middle", showarrow=False,
                       textangle=angle, borderpad=0,
                       font=dict(family=FONT, size=size, color=color)))


def add_legend(tx, ty, tsize, kx, ky0, dy, kw, kh, lx, lsize):
    add_text(LEGEND_TITLE, tx, ty, tsize)
    for g, lab in enumerate(GROUPS):
        cy = ky0 + g * dy
        shapes.append(dict(type="rect", xref="paper", yref="paper", x0=fx(kx - kw / 2),
                           x1=fx(kx + kw / 2), y0=fy(cy + kh / 2), y1=fy(cy - kh / 2),
                           fillcolor="#F2F2F2", line=dict(width=0)))
        shapes.append(dict(type="line", xref="paper", yref="paper", x0=fx(kx), x1=fx(kx),
                           y0=fy(cy + kh * 0.42), y1=fy(cy - kh * 0.42),
                           line=dict(color=BOX_LINE, width=0.8)))
        shapes.append(dict(type="rect", xref="paper", yref="paper", x0=fx(kx - kw * 0.42),
                           x1=fx(kx + kw * 0.42), y0=fy(cy + kh * 0.25), y1=fy(cy - kh * 0.25),
                           fillcolor=BOX_FILL[g], line=dict(color=BOX_LINE, width=0.8)))
        shapes.append(dict(type="line", xref="paper", yref="paper", x0=fx(kx - kw * 0.42),
                           x1=fx(kx + kw * 0.42), y0=fy(cy), y1=fy(cy),
                           line=dict(color=BOX_LINE, width=1.4)))
        add_text(lab, lx, cy, lsize)


def sig_for(sig_list, name):
    return [s[1:] for s in sig_list if s[0] == name]


# ---------------------------------------------------------------- panel A
stA = dict(tick=6.8, strip=7, ms=5, jit=0.29, lw=0.8, mw=1.6, bw=1.0, star=17)
for i, (name, box, pts, out) in enumerate(A_DATA):
    r, c = divmod(i, 4)
    x0 = 29 + 150 * c
    ptop = 33 + 117.7 * r
    add_facet(name, box, pts, out, sig_for(A_SIG, name), x0, x0 + 146, ptop, ptop + 99, 14,
              [-0.76, 14.24], [0, 5, 10], [2.5, 7.5, 12.5], r == 3, c == 0, stA)
add_text("A", 2, 10, 15, bold=True)
add_text(TITLE, 28.5, 9, 11)
add_text(Y_TITLE, 7.5, 252, 8.8, xanchor="center", angle=-90)
add_text(X_TITLE, 327, 502, 9, xanchor="center")
add_legend(634, 237, 9, 640, 251, 13, 9, 11, 649, 6.2)

# ---------------------------------------------------------------- panel B
stB = dict(tick=10, strip=10, ms=6, jit=0.2, lw=1.0, mw=2.2, bw=1.3, star=24)
B_COLS = [(39.5, 313), (319, 592.5)]
for i, (name, box, pts, out) in enumerate(B_DATA):
    x0, x1 = B_COLS[i]
    add_facet(name, box, pts, out, sig_for(B_SIG, name), x0, x1, 563, 988, 20,
              [-0.63, 14.18], [0, 5, 10], [2.5, 7.5, 12.5], True, i == 0, stB)
add_text("B", 3, 528, 16, bold=True)
add_text(TITLE, 39.5, 529, 15)
add_text(Y_TITLE, 11, 771, 12.3, xanchor="center", angle=-90)
add_text(X_TITLE, 316, 1014, 12, xanchor="center")
add_legend(608, 747, 12, 616, 765, 19, 15, 17, 627, 9.4)

# ---------------------------------------------------------------- panel C
stC = dict(tick=10, strip=10, ms=6.5, jit=0.2, lw=1.0, mw=2.2, bw=1.3, star=24)
for i, (name, box, pts, out) in enumerate(C_DATA):
    x0 = 35 + 188.5 * i
    add_facet(name, box, pts, out, sig_for(C_SIG, name), x0, x0 + 182, 1080, 1507, 20,
              [-0.55, 11.24], [0, 3, 6, 9], [1.5, 4.5, 7.5, 10.5], True, i == 0, stC)
add_text("C", 4, 1045, 16, bold=True)
add_text(TITLE, 35, 1045, 15)
add_text(Y_TITLE, 11, 1285, 13, xanchor="center", angle=-90)
add_text(X_TITLE, 314.5, 1531, 12, xanchor="center")
add_legend(609, 1263, 12.5, 617, 1282, 19, 15, 17, 628, 9.4)

# ---------------------------------------------------------------- panel D
stD = dict(tick=8, strip=8.3, ms=5, jit=0.3, lw=0.8, mw=1.8, bw=1.0, star=19)
for i, (name, box, pts, out) in enumerate(D_DATA):
    r, c = divmod(i, 4)
    x0 = 34 + 145.7 * c
    ptop = 1587 + 154 * r
    add_facet(name, box, pts, out, sig_for(D_SIG, name), x0, x0 + 141, ptop, ptop + 130, 17,
              [-0.53, 13.15], [0, 5, 10], [2.5, 7.5, 12.5], r == 2, c == 0, stD)
add_text("D", 3.5, 1557, 17, bold=True)
add_text(TITLE, 34, 1557, 12.5)
add_text(Y_TITLE, 7, 1797, 9.5, xanchor="center", angle=-90)
add_text(X_TITLE, 322.5, 2045, 9.5, xanchor="center")
add_legend(623, 1782, 11, 631, 1797, 16, 14, 15, 640, 7.6)

fig.update_layout(
    width=W, height=H, autosize=False,
    margin=dict(l=0, r=0, t=0, b=0, pad=0),
    paper_bgcolor="white", plot_bgcolor=PANEL_BG,
    showlegend=False, boxmode="overlay",
    shapes=shapes, annotations=annots,
    **axes)

fig.write_html("out.html")
